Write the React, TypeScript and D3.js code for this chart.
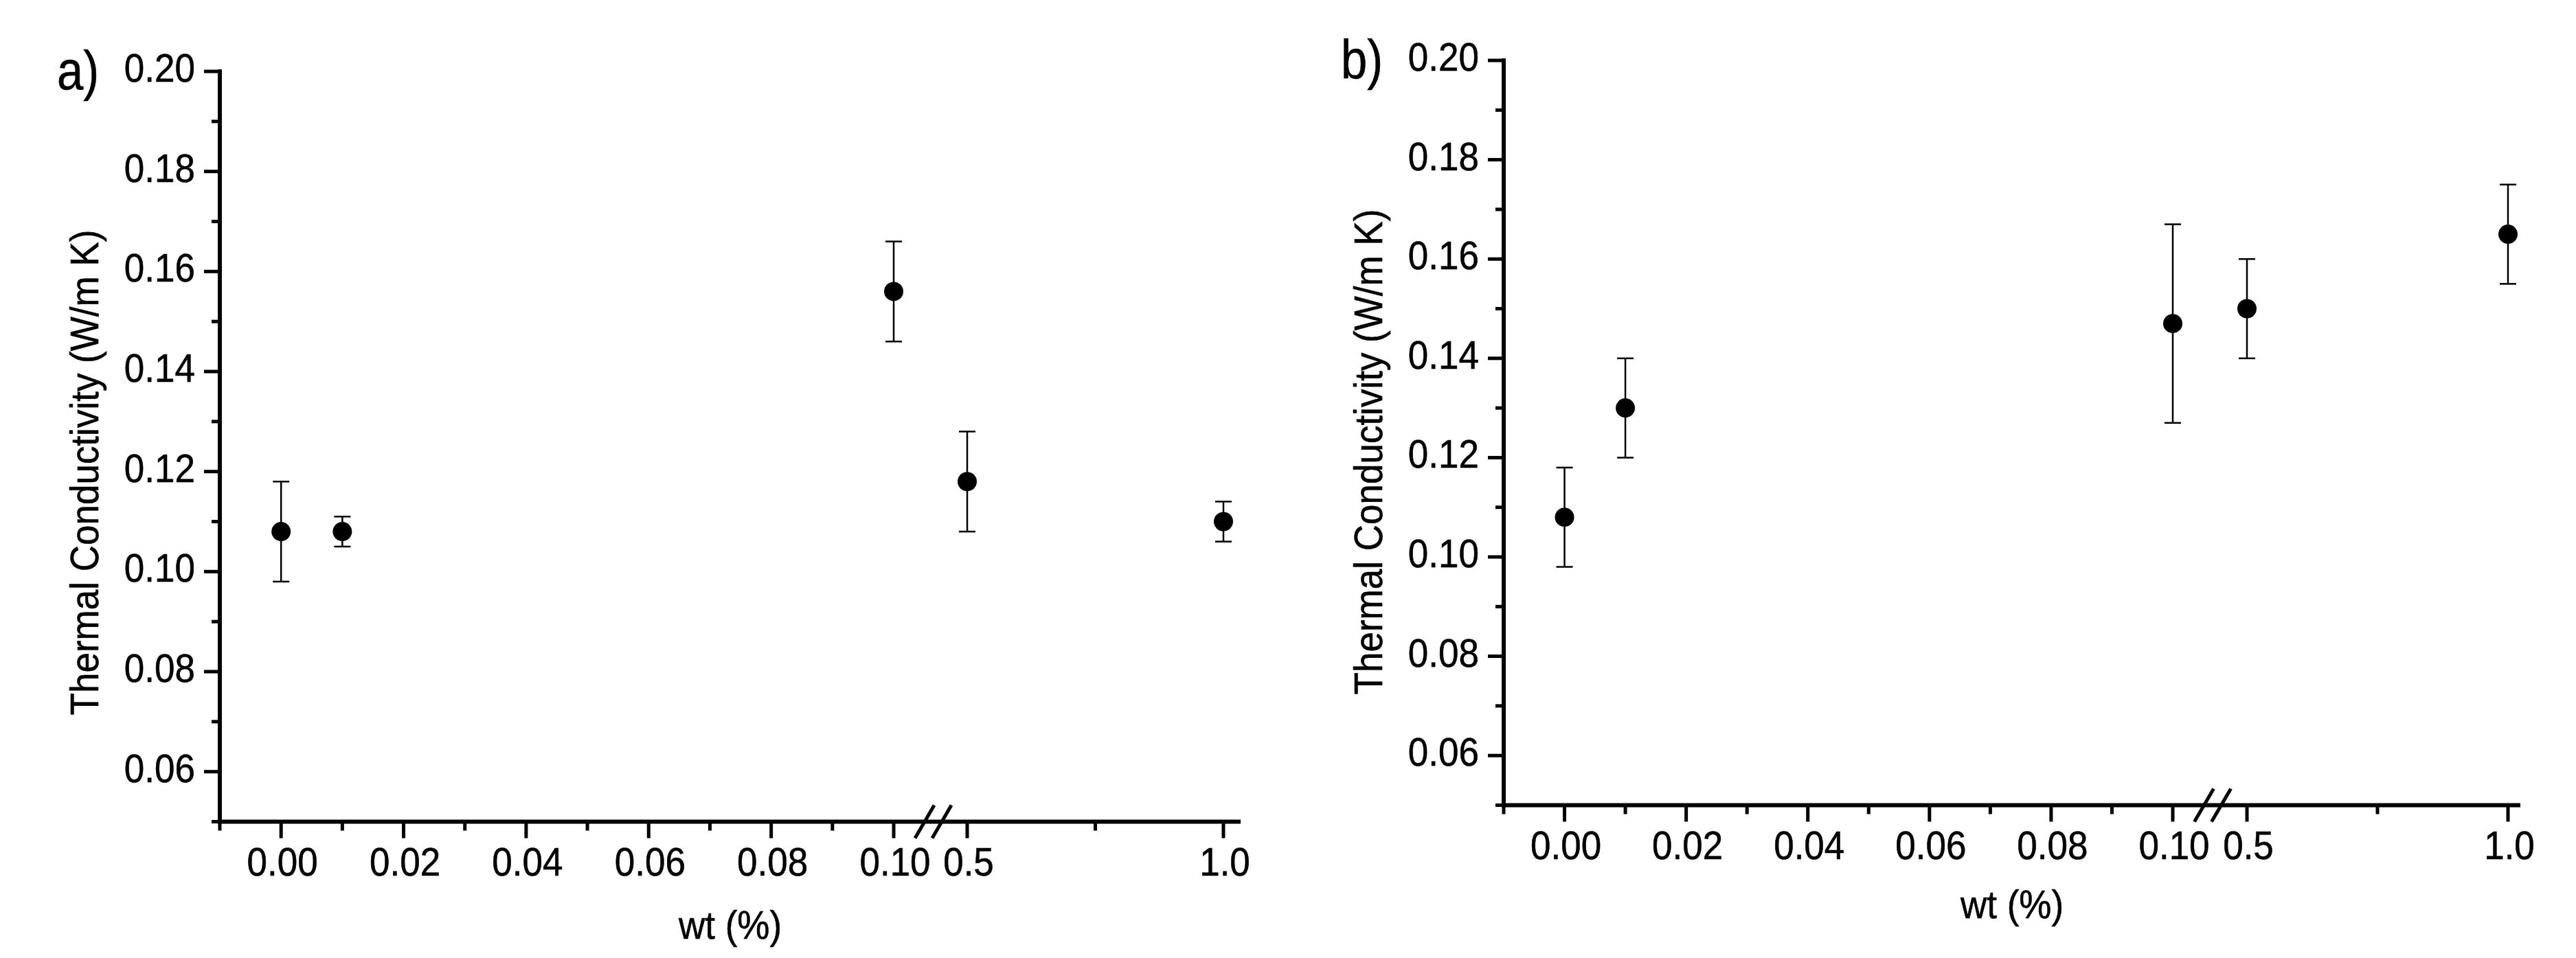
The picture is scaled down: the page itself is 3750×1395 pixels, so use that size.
import React from "react";
import * as d3 from "d3";

// wt (%) positions shared by both panels
const wtValues = [0, 0.01, 0.1, 0.5, 1.0];

// panel a) thermal conductivity and error
const kA = [0.108, 0.108, 0.156, 0.118, 0.11];
const errA = [0.01, 0.003, 0.01, 0.01, 0.004];

// panel b)
const kB = [0.108, 0.13, 0.147, 0.15, 0.165];
const errB = [0.01, 0.01, 0.02, 0.01, 0.01];

const xMajorTicks = [0, 0.02, 0.04, 0.06, 0.08, 0.1, 0.5, 1.0];
const xMajorLabels = ["0.00", "0.02", "0.04", "0.06", "0.08", "0.10", "0.5", "1.0"];
const xMinorTicks = [-0.01, 0.01, 0.03, 0.05, 0.07, 0.09, 0.75];
const yMajorTicks = [0.06, 0.08, 0.1, 0.12, 0.14, 0.16, 0.18, 0.2];
const yMinorTicks = [0.05, 0.07, 0.09, 0.11, 0.13, 0.15, 0.17, 0.19];

const yLabel = "Thermal Conductivity (W/m K)";
const xLabel = "wt (%)";

const FONT = "'Liberation Sans', Arial, Helvetica, sans-serif";
const FS = 57;
const SX = 0.93;

interface PanelLayout {
  tag: string;
  left: number;
  brk1: number;
  brk2: number;
  right: number;
  end: number;
  top: number;
  bottom: number;
  yTitleY: number;
  xTitleY: number;
}

const layoutA: PanelLayout = {
  tag: "a)",
  left: 320,
  brk1: 1301,
  brk2: 1408,
  right: 1781,
  end: 1806,
  top: 104,
  bottom: 1196.5,
  yTitleY: 688,
  xTitleY: 1367,
};

const layoutB: PanelLayout = {
  tag: "b)",
  left: 2189,
  brk1: 3163,
  brk2: 3271,
  right: 3651,
  end: 3669,
  top: 88,
  bottom: 1172.5,
  yTitleY: 658,
  xTitleY: 1337,
};

const Txt: React.FC<{
  x: number;
  y: number;
  anchor?: string;
  size?: number;
  sx?: number;
  rotate?: number;
  children: React.ReactNode;
}> = ({ x, y, anchor = "middle", size = FS, sx = SX, rotate = 0, children }) => (
  <text
    transform={`translate(${x},${y}) rotate(${rotate}) scale(${sx},1)`}
    textAnchor={anchor}
    fontFamily={FONT}
    fontSize={size}
    fill="#000"
    stroke="#000"
    strokeWidth={0.6}
  >
    {children}
  </text>
);

const Panel: React.FC<{ lay: PanelLayout; k: number[]; err: number[] }> = ({
  lay,
  k,
  err,
}) => {
  const x = d3
    .scaleLinear()
    .domain([-0.01, 0.1, 0.5, 1.0])
    .range([lay.left, lay.brk1, lay.brk2, lay.right]);
  const y = d3.scaleLinear().domain([0.05, 0.2]).range([lay.bottom, lay.top]);

  const breakX = (x(0.1) + x(0.5)) / 2 + 4;
  const axisY = y(0.05);

  return (
    <g>
      {/* panel tag */}
      <Txt x={lay.left - 237} y={lay.top + 26} anchor="start" size={80} sx={0.86}>
        {lay.tag}
      </Txt>

      {/* y axis */}
      <line x1={lay.left} x2={lay.left} y1={y(0.2)} y2={axisY} stroke="#000" strokeWidth={6} strokeLinecap="square" />
      {yMajorTicks.map((t) => (
        <g key={"ym" + t}>
          <line x1={lay.left - 23} x2={lay.left} y1={y(t)} y2={y(t)} stroke="#000" strokeWidth={5} />
          <Txt x={lay.left - 36} y={y(t) + 15} anchor="end">
            {t.toFixed(2)}
          </Txt>
        </g>
      ))}
      {yMinorTicks.map((t) => (
        <line key={"yn" + t} x1={lay.left - 12} x2={lay.left} y1={y(t)} y2={y(t)} stroke="#000" strokeWidth={5} />
      ))}
      <Txt x={lay.left - 177} y={lay.yTitleY} rotate={-90}>
        {yLabel}
      </Txt>

      {/* x axis */}
      <line x1={lay.left - 3} x2={lay.end} y1={axisY} y2={axisY} stroke="#000" strokeWidth={6} />
      {xMajorTicks.map((t, i) => (
        <g key={"xm" + t}>
          <line x1={x(t)} x2={x(t)} y1={axisY} y2={axisY + 24} stroke="#000" strokeWidth={5} />
          <Txt x={x(t) + 2} y={axisY + 78}>
            {xMajorLabels[i]}
          </Txt>
        </g>
      ))}
      {xMinorTicks.map((t) => (
        <line key={"xn" + t} x1={x(t)} x2={x(t)} y1={axisY} y2={axisY + 13} stroke="#000" strokeWidth={5} />
      ))}
      {/* axis break */}
      {[-12.5, 12.5].map((d) => (
        <line
          key={"br" + d}
          x1={breakX + d - 14}
          x2={breakX + d + 14}
          y1={axisY + 24}
          y2={axisY - 24}
          stroke="#000"
          strokeWidth={5}
        />
      ))}
      <Txt x={(lay.left + lay.end) / 2} y={lay.xTitleY}>
        {xLabel}
      </Txt>

      {/* error bars and points */}
      {wtValues.map((w, i) => {
        const cx = x(w);
        const hi = y(k[i] + err[i]);
        const lo = y(k[i] - err[i]);
        return (
          <g key={"pt" + i}>
            <line x1={cx} x2={cx} y1={hi} y2={lo} stroke="#000" strokeWidth={2.5} />
            <line x1={cx - 12} x2={cx + 12} y1={hi} y2={hi} stroke="#000" strokeWidth={2.5} />
            <line x1={cx - 12} x2={cx + 12} y1={lo} y2={lo} stroke="#000" strokeWidth={2.5} />
            <circle cx={cx} cy={y(k[i])} r={14} fill="#000" />
          </g>
        );
      })}
    </g>
  );
};

const App: React.FC = () => (
  <svg
    width={3750}
    height={1395}
    style={{ position: "absolute", left: 0, top: 0, background: "#fff" }}
  >
    <rect width={3750} height={1395} fill="#fff" />
    <Panel lay={layoutA} k={kA} err={errA} />
    <Panel lay={layoutB} k={kB} err={errB} />
  </svg>
);

export default App;
